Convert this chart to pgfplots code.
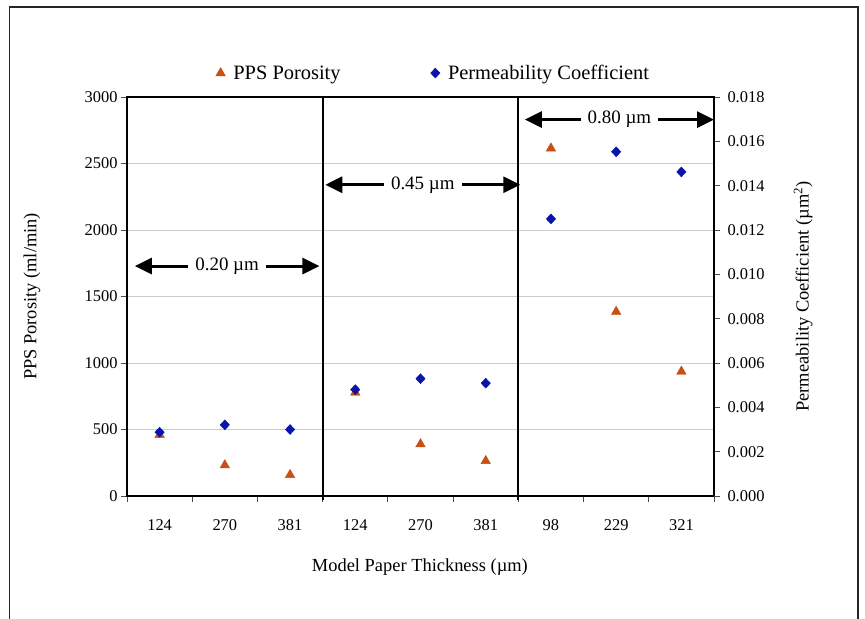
\documentclass[border=0pt]{standalone}
\usepackage{pgfplots}
\pgfplotsset{compat=1.18}
\usepackage{fontspec}
\setmainfont{Liberation Serif}
\usetikzlibrary{arrows.meta}
\definecolor{ppsc}{RGB}{200,80,20}
\definecolor{permc}{RGB}{10,20,170}

\begin{document}
\begin{tikzpicture}
\useasboundingbox (0,0) rectangle (865bp,619bp);
\fill[white] (0,0) rectangle (865bp,619bp);
\draw[line width=1.2bp, black!85] (9.5bp,0) -- (9.5bp,612bp) -- (858bp,612bp) -- (858bp,0);

\pgfplotsset{
  every axis/.append style={
    scale only axis, width=587bp, height=399bp, at={(127bp,123bp)}, anchor=south west,
    xmin=-0.5, xmax=8.5,
    tick align=outside,
    tick label style={font=\fontsize{16.5}{19}\selectfont},
    label style={font=\fontsize{18.5}{22}\selectfont},
    /pgf/number format/assume math mode=true,
    axis line style={line width=1.2bp},
    major tick length=6bp, minor tick length=6bp,
    tick style={line width=0.8bp, black!70},
  }
}

\begin{axis}[
  ymin=0, ymax=3000, ytick={0,500,1000,1500,2000,2500,3000},
  ytick pos=left,
  xtick={0,1,2,3,4,5,6,7,8}, xticklabels={124,270,381,124,270,381,98,229,321},
  major x tick style={draw=none},
  minor xtick={-0.5,0.5,1.5,2.5,3.5,4.5,5.5,6.5,7.5,8.5},
  xtick pos=lower,
  ymajorgrids, major grid style={gray!40, line width=0.9bp},
  xticklabel style={yshift=-14bp},
  xlabel={Model Paper Thickness (µm)},
  ylabel={PPS Porosity (ml/min)},
  xlabel style={at={(axis description cs:0.499,-0.178)}, anchor=center},
  ylabel style={at={(axis description cs:-0.162,0.5)}, anchor=center},
  /pgf/number format/1000 sep={},
  clip=false,
]
\addplot[only marks, mark=triangle*, mark size=5.5bp, color=ppsc] coordinates {
(0,460) (1,232) (2,159) (3,778) (4,390) (5,264) (6,2614) (7,1386) (8,936)};
\draw[line width=2.2bp] (axis cs:2.5,-30) -- (axis cs:2.5,3000);
\draw[line width=2.2bp] (axis cs:5.5,-30) -- (axis cs:5.5,3000);
\draw[line width=3bp, {Triangle[length=17bp,width=16bp]}-{Triangle[length=17bp,width=16bp]}]
  (axis cs:-0.38,1729) -- (axis cs:2.45,1729)
  node[midway, fill=white, inner xsep=7bp, inner ysep=1bp, font=\fontsize{19}{22}\selectfont] {0.20 µm};
\draw[line width=3bp, {Triangle[length=17bp,width=16bp]}-{Triangle[length=17bp,width=16bp]}]
  (axis cs:2.54,2340) -- (axis cs:5.53,2340)
  node[midway, fill=white, inner xsep=7bp, inner ysep=1bp, font=\fontsize{19}{22}\selectfont] {0.45 µm};
\draw[line width=3bp, {Triangle[length=17bp,width=16bp]}-{Triangle[length=17bp,width=16bp]}]
  (axis cs:5.6,2830) -- (axis cs:8.5,2830)
  node[midway, fill=white, inner xsep=7bp, inner ysep=1bp, font=\fontsize{19}{22}\selectfont] {0.80 µm};
\end{axis}

\begin{axis}[
  ymin=0, ymax=0.018,
  ytick={0,0.002,0.004,0.006,0.008,0.010,0.012,0.014,0.016,0.018},
  axis y line*=right, axis x line=none,
  yticklabel style={xshift=4bp, /pgf/number format/.cd, fixed, fixed zerofill, precision=3, /tikz/.cd},
  scaled y ticks=false,
  ylabel={Permeability Coefficient (µm\textsuperscript{2})},
  ylabel style={at={(axis description cs:1.152,0.5)}, anchor=center},
  legend style={at={(0.522,1.06)}, anchor=center, draw=none, fill=none, legend columns=2,
    font=\fontsize{20.5}{24}\selectfont,
    /tikz/every odd column/.append style={column sep=6bp},
    /tikz/every even column/.append style={column sep=88bp}},
  clip=false,
]
\addlegendimage{only marks, mark=triangle*, mark size=5.5bp, color=ppsc}
\addlegendentry{PPS Porosity}
\addplot[only marks, mark=diamond*, mark size=5bp, mark options={xscale=1.25}, color=permc] coordinates {
(0,0.00288) (1,0.00321) (2,0.0030) (3,0.0048) (4,0.00529) (5,0.00509) (6,0.0125) (7,0.01553) (8,0.01462)};
\addlegendentry{Permeability Coefficient}
\end{axis}
\end{tikzpicture}
\end{document}
